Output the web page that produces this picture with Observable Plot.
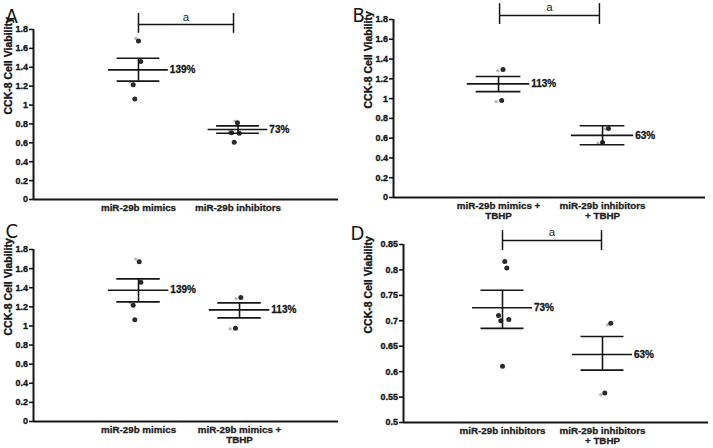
<!DOCTYPE html>
<html><head><meta charset="utf-8">
<script src="https://cdn.jsdelivr.net/npm/d3@7"></script>
<script src="https://cdn.jsdelivr.net/npm/@observablehq/plot@0.6"></script>
<style>
html,body{margin:0;padding:0;background:#fff;}
#wrap{position:relative;width:713px;height:448px;overflow:hidden;background:#fff;}
#wrap > svg{position:absolute;}
</style></head><body><div id="wrap"></div>
<script>
// ---------- data ----------
const yLabel = "CCK-8 Cell Viability";
const sigText = "a";
const ticksFull = [0, 0.2, 0.4, 0.6, 0.8, 1, 1.2, 1.4, 1.6, 1.8];
const ticksD = [0.5, 0.55, 0.6, 0.65, 0.7, 0.75, 0.8, 0.85];

// Panel A
const catA = ["miR-29b mimics", "miR-29b inhibitors"];
const aGroup = [1, 1, 1, 1, 2, 2, 2, 2];
const aValue = [1.677, 1.46, 1.214, 1.063, 0.812, 0.702, 0.706, 0.607];
const aJitter = [0, 0.023, -0.053, -0.037, -0.005, 0.012, -0.065, -0.038];
const aGhostGroup = [1, 1, 2, 2];
const aGhostValue = [1.705, 1.245, 0.83, 0.72];
const aGhostJitter = [-0.027, -0.083, -0.031, -0.088];
const aMean = [1.372, 0.741];
const aUpper = [1.495, 0.78];
const aLower = [1.253, 0.702];
const aPct = ["139%", "73%"];

// Panel B
const catB = ["miR-29b mimics +\nTBHP", "miR-29b inhibitors\n+ TBHP"];
const bGroup = [1, 1, 2, 2];
const bValue = [1.294, 0.98, 0.699, 0.557];
const bJitter = [0.043, 0.03, 0.057, 0];
const bGhostGroup = [1, 1, 2, 2];
const bGhostValue = [1.283, 0.97, 0.693, 0.551];
const bGhostJitter = [-0.007, -0.023, 0.023, -0.043];
const bMean = [1.149, 0.628];
const bUpper = [1.223, 0.726];
const bLower = [1.071, 0.534];
const bPct = ["113%", "63%"];

// Panel C
const catC = ["miR-29b mimics", "miR-29b mimics +\nTBHP"];
const cGroup = [1, 1, 1, 1, 2, 2];
const cValue = [1.671, 1.458, 1.217, 1.066, 1.297, 0.976];
const cJitter = [0.007, 0.023, -0.053, -0.037, 0.013, -0.04];
const cGhostGroup = [1, 1, 2, 2];
const cGhostValue = [1.70, 1.245, 1.287, 0.969];
const cGhostJitter = [-0.027, -0.083, -0.033, -0.093];
const cMean = [1.374, 1.168];
const cUpper = [1.493, 1.241];
const cLower = [1.252, 1.084];
const cPct = ["139%", "113%"];

// Panel D
const catD = ["miR-29b inhibitors", "miR-29b inhibitors\n+ TBHP"];
const dGroup = [1, 1, 1, 1, 1, 1, 2, 2];
const dValue = [0.8164, 0.804, 0.7105, 0.70, 0.7026, 0.6105, 0.6954, 0.558];
const dJitter = [0.023, 0.043, -0.04, -0.017, 0.063, 0, 0.083, 0.023];
const dGhostGroup = [2, 2];
const dGhostValue = [0.692, 0.555];
const dGhostJitter = [0.05, -0.017];
const dMean = [0.7257, 0.6336];
const dUpper = [0.760, 0.669];
const dLower = [0.685, 0.603];
const dPct = ["73%", "63%"];

// significance brackets: [x1, x2, y, tickLow, tickHigh, labelY]
const sigA = [1, 1.955, 1.853, 1.76, 1.97, 1.927];
const sigB = [1.01, 1.97, 1.84, 1.75, 1.96, 1.92];
const sigD = [1.0, 1.99, 0.858, 0.838, 0.8775, 0.8736];

// ---------- drawing ----------
const FONT = "'Liberation Sans', Arial, Helvetica, sans-serif";
const INK = "#161616";
const fmt = d3.format("~g");

function panel(cfg) {
  const [y0, y1] = cfg.yDomain;
  const [x0, x1] = cfg.xDomain;
  const idx = [0, 1];
  const gx = [1, 2];
  const pts = cfg.value.map((v, i) => i);
  const gpts = cfg.ghostValue.map((v, i) => i);
  const marks = [
    // axes lines
    Plot.ruleY([y0], {x1: x0, x2: x1, stroke: INK, strokeWidth: 2}),
    Plot.ruleX([x0], {y1: y0, y2: y1, stroke: INK, strokeWidth: 2}),
    Plot.axisY(cfg.ticks, {tickSize: 4, tickPadding: 1.5, tickFormat: fmt, stroke: INK, strokeWidth: 1.6,
      fontSize: 9, fontWeight: "bold", fill: INK, textStroke: INK, textStrokeWidth: 0.35, label: null}),
    // category labels
    Plot.text(idx, {x: i => gx[i], y: y0, text: i => cfg.cats[i], dy: 5, lineAnchor: "top",
      fontSize: 9.8, fontWeight: "bold", fill: "#222", stroke: "#222", strokeWidth: 0.3, lineHeight: 1.0}),
    // y label
    Plot.text([yLabel], {frameAnchor: "left", text: d => d, rotate: -90, dx: cfg.yLabelDx,
      fontSize: 10.5, fontWeight: "bold", fill: INK, stroke: INK, strokeWidth: 0.35}),
    // panel letter
    Plot.text([cfg.letter], {frameAnchor: "top-left", text: d => d, textAnchor: "start", lineAnchor: "bottom",
      dx: cfg.letterDx, dy: cfg.letterDy, fontSize: 20, fontFamily: "'Liberation Sans Narrow', 'DejaVu Sans Condensed', sans-serif",
      fill: INK}),
    // ghost points
    Plot.dot(gpts, {x: i => cfg.ghostGroup[i] + cfg.ghostJitter[i], y: i => cfg.ghostValue[i], r: 1.6, fill: "#b4b4b4"}),
    // points
    Plot.dot(pts, {x: i => cfg.group[i] + cfg.jitter[i], y: i => cfg.value[i], r: 2.5, fill: "#2a2a2a"}),
    // mean and SEM
    Plot.ruleY(idx, {y: i => cfg.mean[i], x1: i => gx[i] - 0.3, x2: i => gx[i] + 0.3, stroke: INK, strokeWidth: 1.6}),
    Plot.ruleY(idx, {y: i => cfg.upper[i], x1: i => gx[i] - 0.215, x2: i => gx[i] + 0.215, stroke: INK, strokeWidth: 1.6}),
    Plot.ruleY(idx, {y: i => cfg.lower[i], x1: i => gx[i] - 0.215, x2: i => gx[i] + 0.215, stroke: INK, strokeWidth: 1.6}),
    Plot.ruleX(idx, {x: i => gx[i], y1: i => cfg.lower[i], y2: i => cfg.upper[i], stroke: INK, strokeWidth: 1.6}),
    Plot.text(idx, {x: i => gx[i] + 0.3, y: i => cfg.mean[i], text: i => cfg.pct[i], textAnchor: "start", dx: 1.5,
      fontSize: 10, fontWeight: "bold", fill: INK, stroke: INK, strokeWidth: 0.3})
  ];
  if (cfg.sig) {
    const [s1, s2, sy, t0, t1, ly] = cfg.sig;
    marks.push(
      Plot.ruleY([sy], {x1: s1, x2: s2, stroke: INK, strokeWidth: 1.5}),
      Plot.ruleX([s1, s2], {x: d => d, y1: t0, y2: t1, stroke: INK, strokeWidth: 1.5}),
      Plot.text([sigText], {x: (s1 + s2) / 2, y: ly, text: d => d, fontSize: 11.5, fill: "#222"})
    );
  }
  const svg = Plot.plot({
    width: cfg.width, height: cfg.height,
    marginLeft: cfg.m[3], marginTop: cfg.m[0], marginRight: cfg.m[1], marginBottom: cfg.m[2],
    x: {type: "linear", domain: cfg.xDomain, axis: null},
    y: {type: "linear", domain: cfg.yDomain, axis: null},
    style: {fontFamily: FONT, fontSize: "9px", overflow: "visible", background: "transparent", color: INK},
    marks
  });
  svg.style.left = cfg.left + "px";
  svg.style.top = cfg.top + "px";
  document.getElementById("wrap").appendChild(svg);
}

panel({letter: "A", left: 0, top: 0, width: 356, height: 222, m: [29, 18, 23, 33],
  xDomain: [-0.055, 3.01], yDomain: [0, 1.8], ticks: ticksFull, cats: catA,
  group: aGroup, value: aValue, jitter: aJitter, ghostGroup: aGhostGroup, ghostValue: aGhostValue, ghostJitter: aGhostJitter,
  mean: aMean, upper: aUpper, lower: aLower, pct: aPct, sig: sigA, yLabelDx: -25, letterDx: -28, letterDy: -7});

panel({letter: "B", left: 356, top: 0, width: 357, height: 222, m: [19, 8, 25, 37],
  xDomain: [-0.01, 2.99], yDomain: [0, 1.8], ticks: ticksFull, cats: catB,
  group: bGroup, value: bValue, jitter: bJitter, ghostGroup: bGhostGroup, ghostValue: bGhostValue, ghostJitter: bGhostJitter,
  mean: bMean, upper: bUpper, lower: bLower, pct: bPct, sig: sigB, yLabelDx: -25, letterDx: -41, letterDy: 2});

panel({letter: "C", left: 0, top: 222, width: 356, height: 226, m: [27, 18, 27, 33],
  xDomain: [-0.04, 2.98], yDomain: [0, 1.8], ticks: ticksFull, cats: catC,
  group: cGroup, value: cValue, jitter: cJitter, ghostGroup: cGhostGroup, ghostValue: cGhostValue, ghostJitter: cGhostJitter,
  mean: cMean, upper: cUpper, lower: cLower, pct: cPct, sig: null, yLabelDx: -25, letterDx: -28, letterDy: -12});

panel({letter: "D", left: 356, top: 222, width: 357, height: 226, m: [22, 5, 26, 47],
  xDomain: [0.01, 3.06], yDomain: [0.5, 0.85], ticks: ticksD, cats: catD,
  group: dGroup, value: dValue, jitter: dJitter, ghostGroup: dGhostGroup, ghostValue: dGhostValue, ghostJitter: dGhostJitter,
  mean: dMean, upper: dUpper, lower: dLower, pct: dPct, sig: sigD, yLabelDx: -35, letterDx: -53, letterDy: -5});
</script>
</body></html>
